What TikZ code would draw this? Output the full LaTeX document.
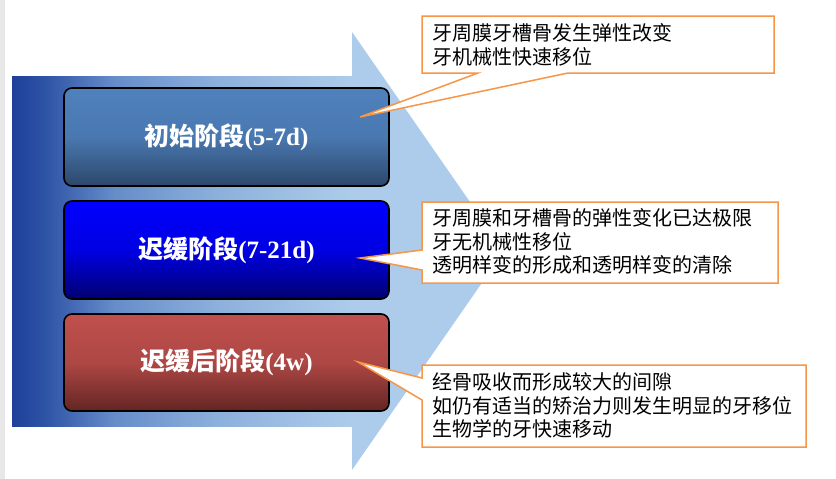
\documentclass[tikz,border=0pt]{standalone}
\usepackage{fontspec}
\setmainfont{Liberation Serif}
\newfontfamily\cjkb{Noto Sans CJK SC Bold}
\newfontfamily\cjk{Noto Sans CJK SC}
\definecolor{arrowlight}{RGB}{173,203,234}
\definecolor{calloutorange}{RGB}{247,150,70}
\definecolor{boxoneTop}{RGB}{79,129,189}
\definecolor{boxoneBot}{RGB}{44,71,106}
\definecolor{boxtwoTop}{RGB}{0,0,255}
\definecolor{boxtwoBot}{RGB}{0,0,112}
\definecolor{boxthreeTop}{RGB}{192,80,77}
\definecolor{boxthreeBot}{RGB}{99,37,35}
\pgfdeclarehorizontalshading{arrowshade}{100bp}{rgb(0bp)=(0.12,0.25,0.60); rgb(25bp)=(0.12,0.25,0.60); rgb(30bp)=(0.18,0.33,0.65); rgb(40bp)=(0.40,0.55,0.79); rgb(55bp)=(0.55,0.69,0.86); rgb(75bp)=(0.68,0.80,0.92); rgb(100bp)=(0.68,0.80,0.92)}
\begin{document}
\begin{tikzpicture}[x=1pt,y=-1pt,
  stagebox/.style={draw=black,line width=1.6pt,rounded corners=8pt},
  stagetext/.style={text=white,font=\fontsize{25}{28}\selectfont\bfseries},
  callout/.style={draw=calloutorange,line width=1.5pt,fill=white,line join=miter},
  callouttext/.style={anchor=west,inner sep=0pt,align=left,font=\cjk\fontsize{20}{23.7}\selectfont}]
\useasboundingbox (0,0) rectangle (836,479);
\fill[white] (0,0) rectangle (836,479);
\fill[gray!18] (0,0) rectangle (5,479);
% big arrow
\fill[arrowlight] (352,32) -- (504,251) -- (352,470) -- cycle;
\fill[shading=arrowshade] (12,76) rectangle (352,426);
% stage boxes
\path[stagebox,top color=boxoneTop,bottom color=boxoneBot,middle color=boxoneTop!85!boxoneBot] (64,88) rectangle (389,186);
\node[stagetext] (s1) at (226.5,137) {{\cjkb 初始阶段}(5-7d)};
\path[stagebox,top color=boxtwoTop,bottom color=boxtwoBot,middle color=boxtwoTop!80!boxtwoBot] (64,201) rectangle (389,299);
\node[stagetext] (s2) at (226.5,250) {{\cjkb 迟缓阶段}(7-21d)};
\path[stagebox,top color=boxthreeTop,bottom color=boxthreeBot,middle color=boxthreeTop!80!boxthreeBot] (64,314) rectangle (389,411);
\node[stagetext] (s3) at (226.5,362) {{\cjkb 迟缓后阶段}(4w)};
% callouts
\coordinate (t1) at (360,117);
\coordinate (t2) at (360,258);
\coordinate (t3) at (358,362);
\draw[callout] (422,16) -- (774,16) -- (774,73) -- (568,73) -- (t1) -- (478,73) -- (422,73) -- cycle;
\node[callouttext] (c1) at (432,45) {牙周膜牙槽骨发生弹性改变\\牙机械性快速移位};
\draw[callout] (422,202) -- (778,202) -- (778,283) -- (422,283) -- (422,270) -- (t2) -- (422,250) -- cycle;
\node[callouttext] (c2) at (432,241.5) {牙周膜和牙槽骨的弹性变化已达极限\\牙无机械性移位\\透明样变的形成和透明样变的清除};
\draw[callout] (422,365) -- (806,365) -- (806,447) -- (422,447) -- (422,400) -- (t3) -- (422,378) -- cycle;
\node[callouttext] (c3) at (432,405.5) {经骨吸收而形成较大的间隙\\如仍有适当的矫治力则发生明显的牙移位\\生物学的牙快速移动};
\end{tikzpicture}
\end{document}
